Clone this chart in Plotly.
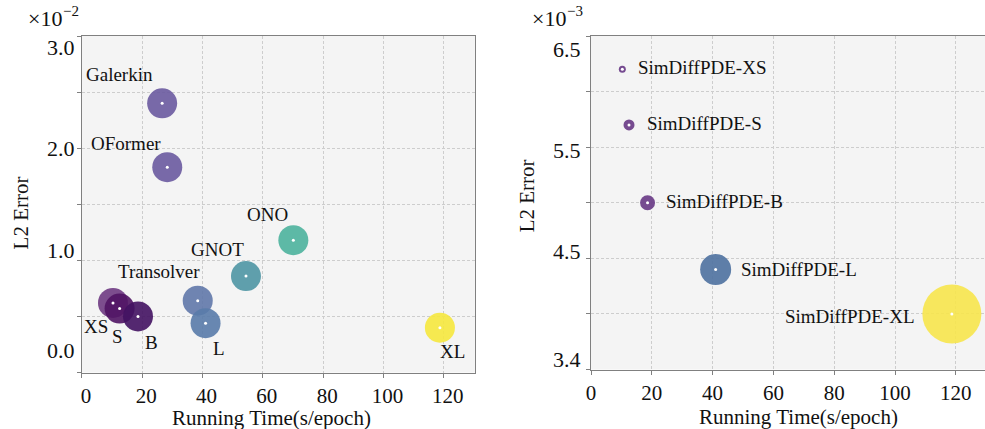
import plotly.graph_objects as go

# ---------------- data ----------------
# Left panel: baselines + SimDiffPDE variants (L2 error in units of 1e-2)
left_names = ["Galerkin", "OFormer", "ONO", "GNOT", "Transolver", "XS", "S", "B", "L", "XL"]
left_time = [26.6, 28.3, 70.1, 54.4, 38.4, 10.3, 12.5, 18.6, 41.0, 118.7]
left_err = [2.40, 1.83, 1.18, 0.86, 0.64, 0.62, 0.57, 0.50, 0.44, 0.40]

# Right panel: SimDiffPDE variants (L2 error in units of 1e-3)
right_names = ["SimDiffPDE-XS", "SimDiffPDE-S", "SimDiffPDE-B", "SimDiffPDE-L", "SimDiffPDE-XL"]
right_time = [10.3, 12.5, 18.6, 41.0, 118.7]
right_err = [6.20, 5.70, 5.00, 4.40, 4.00]

x_ticks = [0, 20, 40, 60, 80, 100, 120]
left_ytick_text = ["3.0", "2.0", "1.0", "0.0"]
right_ytick_text = ["6.5", "5.5", "4.5", "3.4"]
left_exponent = "−2"
right_exponent = "−3"

# ---------------- styles ----------------
FONT = "Liberation Serif"
left_colors = [
    "rgba(109,92,161,0.92)", "rgba(109,92,161,0.92)", "rgba(79,179,158,0.92)",
    "rgba(81,151,165,0.92)", "rgba(99,121,170,0.92)", "rgba(111,59,131,0.9)",
    "rgba(80,20,100,0.9)", "rgba(66,18,98,0.9)", "rgba(89,123,170,0.9)",
    "rgba(245,231,65,0.92)",
]
left_sizes = [30] * 10
right_colors = [
    "rgba(111,65,138,0.95)", "rgba(111,65,138,0.95)", "rgba(111,65,138,0.95)",
    "rgba(82,116,161,0.93)", "rgba(247,229,77,0.9)",
]
right_sizes = [7, 11, 15, 31, 59]

# label offsets (pixels) relative to each point
left_lab_shift = [(-43, 29), (-41, 24), (-26, 26), (-28, 27), (-39, 29),
                  (-17, -24), (-2, -28), (13, -26), (13, -25), (13, -24)]
right_lab_shift = [(14, 2), (16, 1), (16, 1), (23, 0), (-36, -3)]
right_lab_anchor = ["left", "left", "left", "left", "right"]

left_ytick_pos = [2.897, 1.995, 1.091, 0.196]
right_ytick_pos = [6.375, 5.469, 4.561, 3.587]

BG = "#f4f4f4"
SPINE = "#808080"
GRID = "#cdcdcd"
TXT = "#111111"

fig = go.Figure()

# left bubbles
fig.add_trace(go.Scatter(
    x=left_time, y=left_err, mode="markers", xaxis="x", yaxis="y",
    marker=dict(size=left_sizes, color=left_colors, line=dict(width=0), opacity=1),
    hoverinfo="text", text=left_names, showlegend=False))
fig.add_trace(go.Scatter(
    x=left_time, y=left_err, mode="markers", xaxis="x", yaxis="y",
    marker=dict(size=3, color="white", line=dict(width=0)),
    hoverinfo="skip", showlegend=False))

# right bubbles
fig.add_trace(go.Scatter(
    x=right_time, y=right_err, mode="markers", xaxis="x2", yaxis="y2",
    marker=dict(size=right_sizes, color=right_colors, line=dict(width=0), opacity=1),
    hoverinfo="text", text=right_names, showlegend=False))
fig.add_trace(go.Scatter(
    x=right_time, y=right_err, mode="markers", xaxis="x2", yaxis="y2",
    marker=dict(size=3, color="white", line=dict(width=0)),
    hoverinfo="skip", showlegend=False))

annotations = []
for name, xv, yv, (dx, dy) in zip(left_names, left_time, left_err, left_lab_shift):
    annotations.append(dict(x=xv, y=yv, xref="x", yref="y", text=name, showarrow=False,
                            xshift=dx, yshift=dy, xanchor="center", yanchor="middle",
                            font=dict(family=FONT, size=19, color=TXT)))
for name, xv, yv, (dx, dy), anc in zip(right_names, right_time, right_err, right_lab_shift, right_lab_anchor):
    annotations.append(dict(x=xv, y=yv, xref="x2", yref="y2", text=name, showarrow=False,
                            xshift=dx, yshift=dy, xanchor=anc, yanchor="middle",
                            font=dict(family=FONT, size=19, color=TXT)))

# y tick labels
for t, p in zip(left_ytick_text, left_ytick_pos):
    annotations.append(dict(x=0, y=p, xref="x domain", yref="y", text=t, showarrow=False,
                            xanchor="right", yanchor="middle", xshift=-5,
                            font=dict(family=FONT, size=22, color=TXT)))
for t, p in zip(right_ytick_text, right_ytick_pos):
    annotations.append(dict(x=0, y=p, xref="x2 domain", yref="y2", text=t, showarrow=False,
                            xanchor="right", yanchor="middle", xshift=-8,
                            font=dict(family=FONT, size=22, color=TXT)))

# exponent labels (base and superscript as separate texts)
H = 429.0
W = 985.0
for x0, expo in [(21, left_exponent), (528, right_exponent)]:
    annotations.append(dict(x=x0 / W, y=1 - 19 / H, xref="paper", yref="paper",
                            text="×10", showarrow=False, xanchor="left", yanchor="middle",
                            font=dict(family=FONT, size=22, color=TXT)))
    annotations.append(dict(x=(x0 + 35) / W, y=1 - 11 / H, xref="paper", yref="paper",
                            text=expo, showarrow=False, xanchor="left", yanchor="middle",
                            font=dict(family=FONT, size=15, color=TXT)))

# axis titles
annotations.append(dict(x=268 / W, y=1 - 418 / H, xref="paper", yref="paper",
                        text="Running Time(s/epoch)", showarrow=False, xanchor="center", yanchor="middle",
                        font=dict(family=FONT, size=21, color=TXT)))
annotations.append(dict(x=798 / W, y=1 - 417 / H, xref="paper", yref="paper",
                        text="Running Time(s/epoch)", showarrow=False, xanchor="center", yanchor="middle",
                        font=dict(family=FONT, size=21, color=TXT)))
annotations.append(dict(x=17 / W, y=1 - 212.5 / H, xref="paper", yref="paper",
                        text="L2 Error", showarrow=False, textangle=-90, xanchor="center", yanchor="middle",
                        font=dict(family=FONT, size=21, color=TXT)))
annotations.append(dict(x=525 / W, y=1 - 196 / H, xref="paper", yref="paper",
                        text="L2 Error", showarrow=False, textangle=-90, xanchor="center", yanchor="middle",
                        font=dict(family=FONT, size=21, color=TXT)))

axis_common = dict(showgrid=True, gridcolor=GRID, griddash="3px,2px", gridwidth=0.7,
                   showline=True, linecolor=SPINE, linewidth=1, ticks="outside",
                   ticklen=4, tickcolor=SPINE, tickwidth=1, zeroline=False,
                   tickfont=dict(family=FONT, size=21, color=TXT))

fig.update_layout(
    width=985, height=429, margin=dict(l=0, r=0, t=0, b=0),
    paper_bgcolor="white", plot_bgcolor=BG,
    xaxis=dict(domain=[77.3 / W, 472.3 / W], range=[0, 130.3], tickvals=x_ticks,
               mirror=True, anchor="y", ticklabelshift=4, **axis_common),
    yaxis=dict(domain=[1 - 372.5 / H, 1 - 36 / H], range=[0, 3.0],
               tickvals=[0, 0.5, 1.0, 1.5, 2.0, 2.5, 3.0], showticklabels=False,
               mirror=True, anchor="x", **axis_common),
    xaxis2=dict(domain=[589 / W, 1.0], range=[0, 129.6], tickvals=x_ticks,
                mirror=True, anchor="y2", **axis_common),
    yaxis2=dict(domain=[1 - 369.5 / H, 1 - 36 / H], range=[3.5, 6.5],
                tickvals=[3.5, 4.0, 4.5, 5.0, 5.5, 6.0, 6.5], showticklabels=False,
                mirror=False, anchor="x2", **axis_common),
    annotations=annotations,
)

fig.write_html("out.html")
